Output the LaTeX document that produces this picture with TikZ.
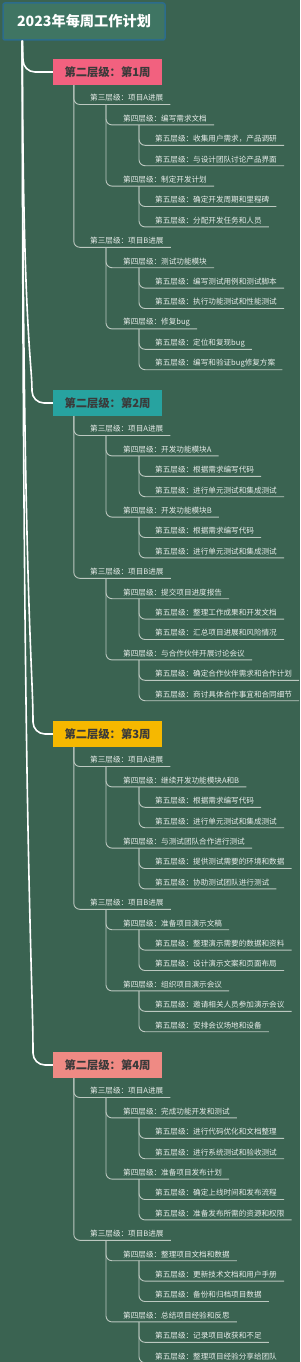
\documentclass[tikz,border=0pt]{standalone}
\usepackage{fontspec}
\newfontfamily\cjk{Noto Sans CJK SC}
\usetikzlibrary{calc}
\definecolor{bg}{HTML}{3A6351}
\definecolor{rootf}{HTML}{3F7563}
\definecolor{rootb}{HTML}{2C6C8C}
\definecolor{wka}{HTML}{F2617F}
\definecolor{wkb}{HTML}{27A3A0}
\definecolor{wkc}{HTML}{F6B800}
\definecolor{wkd}{HTML}{EF8A84}
\definecolor{wtxt}{HTML}{3A3A3A}
\definecolor{txt}{HTML}{E8EDEA}
\definecolor{lnc}{HTML}{BCC8C0}
\tikzset{
  lbl/.style={anchor=west,inner sep=0pt,font=\cjk\fontsize{7.6}{8}\selectfont,text=txt},
  conn/.style={draw=lnc,line width=0.9pt,rounded corners=6pt},
  trunk/.style={draw=white,line width=1.6pt},
  wbox/.style={minimum width=109pt,minimum height=26pt,inner sep=0pt,font=\cjk\bfseries\fontsize{11.3}{13}\selectfont,text=wtxt},
  rootbox/.style={draw=rootb,fill=rootf,line width=1.5pt,rounded corners=2pt,minimum width=162pt,minimum height=37pt,inner sep=0pt,text=white,font=\cjk\bfseries\fontsize{14.2}{16}\selectfont}
}
\newcommand\Item[6]{%
  \node[lbl] (#4) at (#1,{\wy+26+20.4*#3}) {#5};
  \coordinate (#4u) at ($(#4.east)+(7,6.5)$);
  \coordinate (#4v) at (#2,{\wy+32.5+20.4*#3});
  \draw[conn] (#6) |- (#4u);}
\newcommand\Lthree[4]{\Item{90}{106}{#1}{#2}{第三层级：#3}{#4}}
\newcommand\Lfour[4]{\Item{123}{139}{#1}{#2}{第四层级：#3}{#4}}
\newcommand\Lfive[4]{\Item{155}{170}{#1}{#2}{第五层级：#3}{#4}}
\newcommand\trunkline[3]{%
  \draw[trunk] (rootv) .. controls (23,{40+0.8*(#2-40)}) and (#3,{#2-0.08*(#2-40)-12}) .. (#3,{#2-12})
    .. controls (#3,{#2-5.4}) and ({#3+5.4},#2) .. ({#3+12},#2) -- (#1.west);}
\begin{document}
\begin{tikzpicture}[x=1pt,y=-1pt]
\path[use as bounding box,fill=bg] (0,0) rectangle (300,1362);
\node[rootbox] (root) at (84,21.5) {2023年每周工作计划};
\coordinate (rootv) at ($(root.south west)+(20,0)$);

% ---------- week 1
\def\wy{72}
\node[wbox,fill=wka] (b1) at (107.5,\wy) {第二层级：第1周};
\coordinate (b1v) at ($(b1.south west)+(21,0)$);
\draw[trunk] (rootv) -- (23,60) .. controls (23,66.6) and (28.4,72) .. (35,72) -- (b1.west);
\Lthree{0}{t1a}{项目A进展}{b1v}
\Lfour{1}{f1a}{编写需求文档}{t1av}
\Lfive{2}{v1a}{收集用户需求，产品调研}{f1av}
\Lfive{3}{v1b}{与设计团队讨论产品界面}{f1av}
\Lfour{4}{f1b}{制定开发计划}{t1av}
\Lfive{5}{v1c}{确定开发周期和里程碑}{f1bv}
\Lfive{6}{v1d}{分配开发任务和人员}{f1bv}
\Lthree{7}{t1b}{项目B进展}{b1v}
\Lfour{8}{f1c}{测试功能模块}{t1bv}
\Lfive{9}{v1e}{编写测试用例和测试脚本}{f1cv}
\Lfive{10}{v1f}{执行功能测试和性能测试}{f1cv}
\Lfour{11}{f1d}{修复bug}{t1bv}
\Lfive{12}{v1g}{定位和复现bug}{f1dv}
\Lfive{13}{v1h}{编写和验证bug修复方案}{f1dv}

% ---------- week 2
\def\wy{403}
\node[wbox,fill=wkb] (b2) at (107.5,\wy) {第二层级：第2周};
\coordinate (b2v) at ($(b2.south west)+(21,0)$);
\trunkline{b2}{403}{32}
\Lthree{0}{t2a}{项目A进展}{b2v}
\Lfour{1}{f2a}{开发功能模块A}{t2av}
\Lfive{2}{v2a}{根据需求编写代码}{f2av}
\Lfive{3}{v2b}{进行单元测试和集成测试}{f2av}
\Lfour{4}{f2b}{开发功能模块B}{t2av}
\Lfive{5}{v2c}{根据需求编写代码}{f2bv}
\Lfive{6}{v2d}{进行单元测试和集成测试}{f2bv}
\Lthree{7}{t2b}{项目B进展}{b2v}
\Lfour{8}{f2c}{提交项目进度报告}{t2bv}
\Lfive{9}{v2e}{整理工作成果和开发文档}{f2cv}
\Lfive{10}{v2f}{汇总项目进展和风险情况}{f2cv}
\Lfour{11}{f2d}{与合作伙伴开展讨论会议}{t2bv}
\Lfive{12}{v2g}{确定合作伙伴需求和合作计划}{f2dv}
\Lfive{13}{v2h}{商讨具体合作事宜和合同细节}{f2dv}

% ---------- week 3
\def\wy{734}
\node[wbox,fill=wkc] (b3) at (107.5,\wy) {第二层级：第3周};
\coordinate (b3v) at ($(b3.south west)+(21,0)$);
\trunkline{b3}{734}{33}
\Lthree{0}{t3a}{项目A进展}{b3v}
\Lfour{1}{f3a}{继续开发功能模块A和B}{t3av}
\Lfive{2}{v3a}{根据需求编写代码}{f3av}
\Lfive{3}{v3b}{进行单元测试和集成测试}{f3av}
\Lfour{4}{f3b}{与测试团队合作进行测试}{t3av}
\Lfive{5}{v3c}{提供测试需要的环境和数据}{f3bv}
\Lfive{6}{v3d}{协助测试团队进行测试}{f3bv}
\Lthree{7}{t3b}{项目B进展}{b3v}
\Lfour{8}{f3c}{准备项目演示文稿}{t3bv}
\Lfive{9}{v3e}{整理演示需要的数据和资料}{f3cv}
\Lfive{10}{v3f}{设计演示文案和页面布局}{f3cv}
\Lfour{11}{f3d}{组织项目演示会议}{t3bv}
\Lfive{12}{v3g}{邀请相关人员参加演示会议}{f3dv}
\Lfive{13}{v3h}{安排会议场地和设备}{f3dv}

% ---------- week 4
\def\wy{1065}
\node[wbox,fill=wkd] (b4) at (107.5,\wy) {第二层级：第4周};
\coordinate (b4v) at ($(b4.south west)+(21,0)$);
\trunkline{b4}{1065}{33}
\Lthree{0}{t4a}{项目A进展}{b4v}
\Lfour{1}{f4a}{完成功能开发和测试}{t4av}
\Lfive{2}{v4a}{进行代码优化和文档整理}{f4av}
\Lfive{3}{v4b}{进行系统测试和验收测试}{f4av}
\Lfour{4}{f4b}{准备项目发布计划}{t4av}
\Lfive{5}{v4c}{确定上线时间和发布流程}{f4bv}
\Lfive{6}{v4d}{准备发布所需的资源和权限}{f4bv}
\Lthree{7}{t4b}{项目B进展}{b4v}
\Lfour{8}{f4c}{整理项目文档和数据}{t4bv}
\Lfive{9}{v4e}{更新技术文档和用户手册}{f4cv}
\Lfive{10}{v4f}{备份和归档项目数据}{f4cv}
\Lfour{11}{f4d}{总结项目经验和反思}{t4bv}
\Lfive{12}{v4g}{记录项目收获和不足}{f4dv}
\Lfive{13}{v4h}{整理项目经验分享给团队}{f4dv}
\end{tikzpicture}
\end{document}
